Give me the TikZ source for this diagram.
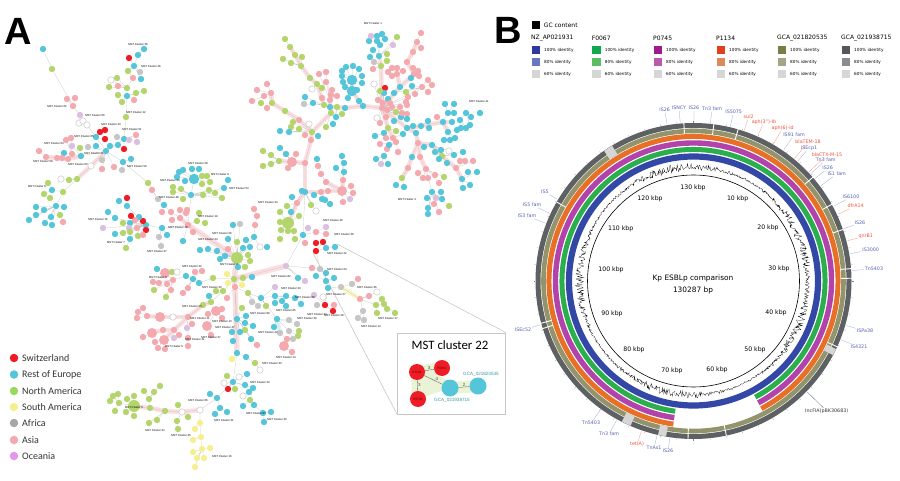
\documentclass[tikz,border=0pt]{standalone}
\usepackage{fontspec}
\setmainfont{DejaVu Sans}
\newfontfamily\arialf{Liberation Sans}
\newfontfamily\carlf{Carlito}
\usetikzlibrary{calc}
\pgfdeclarelayer{halos}
\pgfdeclarelayer{wires}
\pgfsetlayers{halos,wires,main}
\definecolor{cAsia}{HTML}{F4A9AE}
\definecolor{cEu}{HTML}{55C5DA}
\definecolor{cNa}{HTML}{B4D46C}
\definecolor{cSa}{HTML}{F6EF90}
\definecolor{cAf}{HTML}{C6C6C6}
\definecolor{cOc}{HTML}{DABFE0}
\definecolor{cCh}{HTML}{EE1C25}
\definecolor{blueA}{HTML}{2B3A9B}
\definecolor{blueB}{HTML}{6677C0}
\definecolor{greenA}{HTML}{12A850}
\definecolor{greenB}{HTML}{5CBE64}
\definecolor{magA}{HTML}{A2198E}
\definecolor{magB}{HTML}{B85BAD}
\definecolor{redA}{HTML}{E0401F}
\definecolor{redB}{HTML}{DC8A5C}
\definecolor{oliveA}{HTML}{7C7C46}
\definecolor{oliveB}{HTML}{A4A486}
\definecolor{darkA}{HTML}{53575A}
\definecolor{darkB}{HTML}{8A8C8E}
\definecolor{idGray}{HTML}{D6D6D6}
\definecolor{labBlue}{HTML}{5560B5}
\definecolor{labRed}{HTML}{F0523A}
\definecolor{ringBlue}{HTML}{3347A6}
\definecolor{ringGreen}{HTML}{2BAE4C}
\definecolor{ringMag}{HTML}{B243AA}
\definecolor{ringOrange}{HTML}{E76F26}
\definecolor{ringOlive}{HTML}{94946C}
\definecolor{ringDark}{HTML}{5E6163}
\tikzset{
  nd/.style={circle,inner sep=0pt,minimum size=6.4pt},
  asia/.style={nd,fill=cAsia}, eu/.style={nd,fill=cEu}, na/.style={nd,fill=cNa},
  sa/.style={nd,fill=cSa}, af/.style={nd,fill=cAf}, oc/.style={nd,fill=cOc},
  ch/.style={nd,fill=cCh}, wh/.style={nd,fill=white,draw=gray!60,line width=.3pt},
  asiabig/.style={asia,minimum size=10pt}, eubig/.style={eu,minimum size=10.5pt},
  nabig/.style={na,minimum size=12pt},
  wire/.style={draw=gray!50,line width=.2pt},
  halo/.style={draw=cAsia!38,line width=4.5pt,line cap=round},
  mst/.style={font=\arialf\fontsize{2.8}{3}\selectfont,inner sep=0pt},
  feat/.style={font=\fontsize{4.8}{5}\selectfont,inner sep=.8pt},
  kbp/.style={font=\fontsize{6.2}{7}\selectfont,inner sep=0pt},
  ident/.style={font=\fontsize{4.2}{5}\selectfont,anchor=west,inner sep=0pt},
  head/.style={font=\fontsize{6}{7}\selectfont,anchor=west,inner sep=0pt},
  swatch/.style={minimum size=8.5pt,inner sep=0pt},
  big letter/.style={font=\arialf\bfseries\fontsize{38}{38}\selectfont,inner sep=0pt},
  lgd/.style={circle,inner sep=0pt,minimum size=8.5pt},
  lgdtext/.style={font=\carlf\fontsize{10}{11}\selectfont,anchor=west,inner sep=0pt,text=black!80},
  inod/.style={circle,inner sep=0pt,minimum size=16pt,font=\arialf\fontsize{3.2}{4}\selectfont},
  elab/.style={font=\arialf\fontsize{4.5}{5}\selectfont,inner sep=.5pt,fill=none},
  teal text/.style={font=\arialf\fontsize{4.6}{5}\selectfont,text=teal!80,inner sep=0pt}
}
\newcommand{\wirelist}{}
\newcommand{\hubs}[1]{\foreach \nm/\pa/\x/\y/\col in {#1}{%
  \node[\col] (\nm) at (\x,\y) {};
  \xdef\wirelist{\wirelist (\pa)--(\nm)}}}
\newcommand{\kids}[2]{\foreach \x/\y/\col [count=\i] in {#2}{%
  \node[\col] (#1-\i) at (\x,\y) {};
  \xdef\wirelist{\wirelist (#1)--(#1-\i)}}}
\newcommand{\ringarc}[4]{\draw[#1,line width=#3pt] (#4:#2) arc[start angle=#4,end angle=622,radius=#2pt];}

\begin{document}
\begin{tikzpicture}[x=1pt,y=-1pt]
	\useasboundingbox (0,0) rectangle (900,481);
	\coordinate (c) at (693.5,281); %centre of the rings
	\node[big letter] (A) at (18,31) {A};
	\node[big letter] (B) at (508.5,30) {B};

	% right tree
	\hubs{r/r/382/108/asia,ru/r/381/66/na,ru1/ru/379/56/eu,ru2/ru1/377/41/eu,
		rr/r/407/128/eu,rr1/rr/421/126/eu,rr2/rr1/443/122/eu,rr3/rr2/448/132/eu,rr4/rr2/452/122/eu,
		rr5/rr2/448/113/eu,rr6/rr4/460/120/eu,rr7/rr6/466/113/eu,
		rd/rr/416/133/eu,rd1/rd/418/143/asia,rd2/rd1/432/145/eu,rd3/rd2/442/156/na,rd4/rd3/456/168/asia,rd5/rd4/462/179/eu,
		rb/rd1/412/157/eu,rb1/rb/408/168/asia,rb2/rb1/402/178/na,
		rc/rd1/420/157/asia,rc1/rc/426/169/asia,rc2/rc1/432/192/eu,
		rl/r/363/106/eu,rl1/rl/345/108/eu,rl2/rl1/337/107/na,rl3/rl2/330/107/eu,rl4/rl3/324/105/na,
		tq1/rl/359/101/eu,tq2/tq1/352/91/eubig,tq/tq2/352/80/eubig,
		t1/rl3/331/113/na,t2/t1/312/132/na,t3/t2/311/140/asia,t4/t3/305/163/asia,t5/t4/305/192/eu,
		rp/r/400/87/eu,rq/rp/397/74/asia,rs/rp/414/74/asia,rp1/rs/407/62/asia,rp2/rp1/413/52/asia,rp3/rp2/417/42/asia,rt/r/422/87/asia,
		ra/r/388/128/na,ra1/ra/384/133/eu,ra2/ra/393/138/asia,ra3/ra2/396/142/asia,ra4/ra3/398/152/asia,ra5/ra3/387/149/asia,ra6/ra5/384/156/eu,
		ua1/rl4/317/84/na,ua2/ua1/310/78/na,ua3/ua2/301/66/na,ua4/ua3/295/55/na,ua5/ua4/290/47/na,ub/rl3/330/100/asia,
		tb1/t2/299/120/asia,tb2/tb1/285/111/na,tb3/tb2/272/103/na,tb4/tb3/271/93/asia,
		tc/t4/292/162/asiabig,tc1/tc/279/161/na,
		te/t5/321/192/asia,te1/te/328/191/asia,te2/te1/342/191/asiabig,te3/te2/343/180/asia,te4/te2/326/182/asia,te5/te4/321/174/asia,te6/te5/318/166/asia,
		tf/t5/297/203/asia,tg/tf/288/223/nabig}
	\kids{r}{385/88/ch,384/93/eu,374/84/wh,380/91/na,378/100/asia,383/103/asia,388/99/eu,390/103/asia,387/110/asia,392/107/asia,396/112/na,400/107/asia,386/117/asia,380/123/asia,377/118/wh,394/121/eu,401/117/eu,402/113/asia,407/105/asia,407/114/asia,407/119/eu,408/97/asia,406/102/asia}
	\kids{ru}{373/69/asia,374/62/af,387/61/na,387/54/na,370/57/eu}
	\kids{ru1}{373/50/eu,380/45/eu,393/45/oc,397/37/na}
	\kids{ru2}{369/41/eu,371/36/oc,377/36/eu,382/34/eu,385/39/eu}
	\kids{rq}{392/68/asia,397/68/asia,403/71/asia,392/76/asia,388/72/asia}
	\kids{rs}{413/68/asia,418/71/asia,419/76/asia,411/78/eu}
	\kids{rp3}{421/33/asia,421/48/asia}
	\kids{rt}{428/80/asia,432/85/asia,428/92/asia,412/86/eu,406/92/na,394/93/eu,415/94/asia}
	\kids{rr1}{428/121/eu,429/128/eu,413/126/eu}
	\kids{rr2}{437/117/asia}
	\kids{rr5}{445/104/eu,454/104/eu,454/113/eu}
	\kids{rr7}{471/117/eu,480/113/eu,470/125/eu}
	\kids{rr6}{461/128/eu,466/128/eu}
	\kids{rr3}{457/130/eu,450/140/eu,444/140/eu,455/138/eu}
	\kids{rd2}{424/147/eu,435/152/eu,441/150/eu,449/151/wh}
	\kids{rd3}{447/163/eu,439/159/eu,454/155/eu,463/152/eu}
	\kids{rd4}{460/161/asia,465/161/asia,473/161/asia}
	\kids{rd5}{468/172/eu,477/172/eu,470/185/eu,463/188/eu}
	\kids{rb2}{396/185/eu,404/187/eu}
	\kids{rc1}{418/173/asia,423/178/asia,428/178/asia,435/175/asia,439/183/asia,444/177/na}
	\kids{rc2}{427/198/eu,436/198/oc,441/192/eu,442/199/eu,449/206/na,434/204/asia,439/212/asia,428/208/eu,428/214/eu}
	\kids{ra}{396/131/na}
	\kids{ra1}{375/136/eu,386/138/asia}
	\kids{ra2}{403/134/eu}
	\kids{ra3}{389/145/eu,380/144/asia}
	\kids{ra6}{376/159/eu,381/164/oc,388/164/eu}
	\kids{tq}{342/71/eu,346/67/eu,353/66/eu,359/69/eu,342/76/eu,362/76/eu,343/82/eu,362/83/eu,345/87/eu,357/90/eu,348/98/eu}
	\kids{rl4}{313/103/eu,305/97/eu,304/104/af}
	\kids{rl2}{336/117/eu,333/124/eu,342/114/na}
	\kids{t1}{326/127/na}
	\kids{ua1}{312/89/wh,322/88/na}
	\kids{ua3}{291/63/na,283/59/na,302/57/na}
	\kids{ua5}{285/39/na}
	\kids{ub}{322/98/asia,337/96/asia,332/90/asia,331/95/asia,326/82/asia,319/74/asia,326/72/asia}
	\kids{tb3}{267/108/asia,261/103/na}
	\kids{tb4}{267/84/asia,264/96/asia,257/90/asia,252/101/asia}
	\kids{t2}{309/124/wh,299/129/na,291/127/na,293/122/na,305/135/asia,318/136/eu,289/132/eu,280/131/eu}
	\kids{tc}{296/154/asia,286/154/eu,280/148/eu,288/168/asia}
	\kids{tc1}{271/164/na,263/166/na,271/155/na,263/151/na}
	\kids{te2}{351/186/asia,353/193/asia,350/199/oc,343/202/asia}
	\kids{te3}{336/168/eu,344/172/eu,344/163/eu,342/156/eu}
	\kids{te6}{317/159/eu}
	\kids{te}{314/195/eu,322/199/eu,325/200/eu,330/204/eu}
	\kids{tf}{292/197/eu,302/191/eu,291/212/eu,287/206/na}
	\kids{tg}{280/212/na,280/222/na,299/216/na,281/230/na,288/231/na,294/231/na,280/239/na,295/239/na}
	\kids{t5}{311/205/na,316/211/wh}

	% centre of panel A
	\hubs{v/t5/303/235/eu,w/v/286/266/oc,j/w/234/279/na,h/j/237/258/nabig,k/j/235/287/asia,m/k/237/353/eu,
		v1/v/316/232/asia,
		x/w/312/268/asia,x1/x/320/269/af,x2/x1/326/273/eu,q/x1/316/251/ch,q1/q/326/248/eu,
		x3/x2/326/281/eu,x4/x3/328/288/eu,y/x4/341/287/af,y1/y/352/284/af,y2/y/360/299/asia,y3/y2/363/311/af,y4/y2/376/305/na,y5/y4/384/304/na,
		z1/x4/325/305/ch,
		g/k/248/293/na,g1/g/261/298/eu,g2/g1/275/287/oc,g3/g1/275/296/eu,g4/g3/282/301/eu,g5/g4/286/306/eu,g6/g3/295/298/eu,
		n/g1/277/319/eu,n1/n/280/333/af,n2/n1/287/339/asia,n3/n2/284/346/asiabig,n4/n/289/331/af,
		p1/k/237/319/eu,
		m1/m/246/357/eu,m2/m1/255/363/na,
		o/m/233/382/eu,o1/o/253/388/eu,o2/o1/250/400/na,o4/o2/254/405/eu,o5/o4/263/413/eu,
		d/o/217/398/eu,d1/d/220/408/eu,d2/d/210/394/eu,
		e/d/200/410/wh,e1/e/182/412/wh,e2/e1/165/411/na,e3/e2/150/408/na,e4/e3/134/406/nabig,e5/e1/177/421/na,e6/e3/149/399/na,e7/e4/119/403/na,
		sa1/e/200/423/sa,sa2/sa1/201/437/sa,sa3/sa2/202/449/sa,
		c1/j/223/291/na,c2/c1/211/302/na,c3/c2/203/305/na,c4/c3/188/317/asia,c5/c4/173/317/wh,c6/c5/160/317/asiabig,c7/c6/147/316/asia,
		c8/c4/174/330/asia,c9/c8/163/330/asia,c10/c9/152/333/asiabig,c11/c8/164/340/asiabig,c41/c4/188/338/asia,
		c12/c2/216/311/asiabig,c13/c12/207/326/asiabig,
		b/j/213/278/na,b1/b/199/283/eu,b2/b1/193/279/eu,b3/b2/186/276/eu,b4/b3/173/280/asia,b5/b4/165/273/asiabig,
		s1/h/254/237/eu,s2/s1/255/225/asia,s3/s2/257/216/asia,s4/s3/254/209/asia,s5/s1/260/247/wh,
		f/h/188/225/asia}
	\kids{v}{308/228/oc,305/243/asia}
	\kids{v1}{326/227/oc,326/234/asia}
	\kids{q}{316/243/ch,323/242/ch}
	\kids{q1}{335/247/eu}
	\kids{x3}{316/276/eu,334/278/eu}
	\kids{y1}{358/279/asia}
	\kids{y2}{369/296/asia,377/292/wh}
	\kids{y3}{358/318/af,364/320/af}
	\kids{y4}{377/313/na,382/299/na}
	\kids{y5}{387/309/na,395/313/na}
	\kids{z1}{333/311/ch,334/305/asia,317/305/af,314/295/oc,323/297/wh}
	\kids{w}{298/278/eu,305/281/oc}
	\kids{j}{243/278/na,252/277/eu,227/274/sa,228/283/sa,242/285/sa}
	\kids{g}{252/302/af,258/306/af}
	\kids{g1}{266/306/na}
	\kids{g3}{275/303/eu,286/296/eu}
	\kids{g6}{301/304/eu}
	\kids{n}{289/320/af,297/324/af,274/327/eu}
	\kids{n3}{292/352/asia}
	\kids{n4}{299/331/na,298/336/na,293/339/af}
	\kids{k}{227/298/asia}
	\kids{p1}{245/323/eu,253/326/eu,245/330/na,240/332/eu,232/332/eu,233/341/eu,242/308/na,246/316/eu,251/339/eu,257/345/asia}
	\kids{m}{232/359/sa}
	\kids{m2}{260/370/wh}
	\kids{o}{227/376/na,239/377/wh,247/374/eu,224/383/wh,228/389/ch,235/389/na,245/385/eu}
	\kids{o1}{249/392/eu,243/396/wh}
	\kids{o2}{243/406/eu}
	\kids{o5}{271/412/eu,264/422/eu}
	\kids{d1}{215/414/eu,227/412/eu}
	\kids{e1}{178/405/na,188/417/na}
	\kids{e5}{178/429/na}
	\kids{e2}{157/420/na,149/423/na}
	\kids{e6}{144/391/na,154/392/na,160/386/na}
	\kids{e4}{134/396/na,127/399/na,126/412/na,134/416/na}
	\kids{e7}{118/394/na,113/396/na,110/401/na,115/411/na}
	\kids{sa1}{195/429/sa}
	\kids{sa2}{193/440/sa}
	\kids{sa3}{210/448/sa,193/452/sa,197/458/sa,204/458/sa,195/467/sa}
	\kids{c1}{216/291/na,209/296/eu}
	\kids{c7}{143/308/asia,138/312/asia,137/318/asia}
	\kids{c4}{192/324/asia,187/328/oc}
	\kids{c41}{188/346/asia}
	\kids{c8}{179/335/asia,174/338/oc}
	\kids{c10}{143/337/asia}
	\kids{c11}{155/342/asia,158/348/asia,165/349/asia}
	\kids{c12}{222/309/asia,208/314/asia,222/318/asia}
	\kids{c13}{211/335/asia}
	\kids{b2}{195/272/asia,202/271/asia,188/288/asia,183/293/asia}
	\kids{b4}{167/284/asia,159/283/asia,153/282/asia,171/290/asia,166/297/na,154/290/na}
	\kids{b5}{157/269/eu,172/272/na,177/272/wh}
	\kids{h}{228/239/eu,237/242/na,233/225/eu,240/224/af,246/240/eu,243/248/eu,250/247/eu,248/255/na,250/261/na,245/267/na,238/267/eu,220/259/eu,225/256/eu,228/249/asia,217/251/eu,208/249/eu,200/250/eu}
	\kids{s5}{267/247/eu}

	% left of panel A
	\hubs{f1/f/186/213/asia,f3/f/180/218/asia,f4/f3/171/212/asia,f5/f4/164/205/eu,f6/f5/158/199/af,f7/f6/148/183/na,f8/f7/123/162/eu,f9/f8/106/151/eu,
		f10/f/197/221/na,f11/f/191/195/eu,f12/f11/194/179/eubig,f13/f11/224/188/eu,
		f14/f/162/228/eu,f15/f14/146/225/eu,f16/f14/159/237/af,f17/f15/127/206/eu,f18/f15/115/218/eu,f19/f15/130/239/eu,
		fa/f9/124/139/eu,fa1/fa/126/117/na,fa2/fa1/127/96/eu,fa3/fa2/127/88/na,fa4/fa3/133/78/asia,fa5/fa4/128/71/na,fa6/fa5/134/66/eu,fa7/fa6/138/55/eu,
		fb/f9/96/137/eu,fc/f9/88/147/af,fd/f9/81/156/eu,fe/fd/72/154/asia,ff/fd/68/159/asia,fg/ff/57/158/asia,fh/fg/46/157/asia,
		fi/f9/91/166/wh,fj/fi/77/179/na,fk/fj/63/192/na,fl/fk/52/190/eu,fm/fk/56/206/eu,
		fo/f9/80/115/oc,fp/fo/73/106/asia,fq/fp/52/69/na}
	\kids{f}{193/232/asia,183/241/eu}
	\kids{f1}{180/210/asia,187/210/asia}
	\kids{f3}{172/220/asia}
	\kids{f4}{162/212/asia}
	\kids{f6}{152/190/asia}
	\kids{f10}{199/213/na,205/223/na}
	\kids{f12}{192/169/eu,199/169/eu,183/170/eu,179/172/eu,177/177/eu,185/181/eu,202/176/na,207/176/na,202/184/na,210/182/na}
	\kids{f11}{181/189/na,173/187/na,173/192/na,183/199/na,203/195/na,209/190/na,215/193/na,222/198/na}
	\kids{f13}{228/180/eu}
	\kids{f14}{167/235/eu}
	\kids{f16}{161/246/af}
	\kids{f15}{143/221/ch,146/230/ch,139/217/eu,135/220/asia,131/216/ch,130/223/eu,137/228/asia,129/228/oc,130/232/na,138/236/na,143/235/asia,123/223/na,123/233/na,115/234/eu,103/228/oc}
	\kids{f17}{119/201/eu,127/198/ch}
	\kids{f18}{108/212/eu}
	\kids{f19}{126/248/na}
	\kids{fa}{117/137/af,136/135/asia,129/140/oc,137/142/oc,124/149/ch}
	\kids{fa2}{118/95/na,122/102/na,134/100/asia,136/93/na,144/91/na}
	\kids{fa3}{117/78/na,111/80/wh,109/87/na,118/86/asia}
	\kids{fa6}{140/72/af,141/79/eu,129/58/ch}
	\kids{fa7}{144/49/eu}
	\kids{fb}{100/132/ch,105/130/ch,105/139/ch}
	\kids{f9}{110/146/eu,118/145/eu,96/146/eu,114/167/asia,102/160/af,102/169/asia}
	\kids{f8}{131/159/eu,122/170/af}
	\kids{fd}{80/148/na,72/146/oc}
	\kids{fe}{64/153/eu,66/140/asia,71/138/asia}
	\kids{ff}{62/158/asia}
	\kids{fh}{39/151/asia}
	\kids{fj}{69/180/na,61/179/wh}
	\kids{fl}{48/183/na,44/194/na,50/198/na}
	\kids{fm}{64/207/eu,44/210/eu,60/215/na,51/217/eu,36/207/eu,36/215/eu,29/220/eu,45/223/eu,52/225/eu,63/222/asia}
	\kids{fo}{79/123/wh,83/121/wh,87/125/wh}
	\kids{fp}{67/99/asia,75/98/asia}
	\kids{fq}{43/49/eu}

	% pink bands and thin links under the trees
	\begin{pgfonlayer}{halos}
		\foreach \a/\b in {r/rl,rl/rl1,rl1/rl2,rl2/rl3,rl3/t1,t1/t2,t2/t3,t3/t4,t4/t5,r/ru,ru/ru1,r/rr,rr/rr1,rr1/rr2,rr2/rr3,rr2/rr4,rr/rd,rd/rd1,rd1/rd2,rd2/rd3,rd3/rd4,rd4/rd5,rd1/rb,rb/rb1,rb1/rb2,rd1/rc,rc/rc1,r/rp,rp/rq,rp/rs,rs/rp1,rp1/rp2,rp2/rp3,r/ra,ra/ra2,ra2/ra3,rl/tq1,tq1/tq2,tq2/tq,rl4/ua1,ua1/ua2,ua2/ua3,ua3/ua4,ua4/ua5,rl3/ub,t2/tb1,tb1/tb2,tb2/tb3,tb3/tb4,t4/tc,tc/tc1,t5/te,te/te1,te1/te2,te2/te3,te2/te4,t5/tf,tf/tg,c2/c3,c3/c4,c4/c5,c5/c6,c6/c7,c4/c8,c8/c9,c9/c10,c8/c11,e/e1,e1/e2,e2/e3,e3/e4,f/f3,fd/ff,ff/fg,fg/fh,fi/fj,f9/fi}
			\draw[halo] (\a) -- (\b);
		\foreach \a/\b in {w/j,j/h,h/f,j/k,k/m}
			\draw[halo,line width=5.5pt] (\a) -- (\b);
		\draw[halo,draw=cSa!50] (y) -- (y2);
		\draw[halo,draw=cEu!18] (n) -- (n1);
	\end{pgfonlayer}
	\begin{pgfonlayer}{wires}
		\draw[wire] \wirelist;
	\end{pgfonlayer}

	% cluster labels
	\foreach \x/\y/\num [count=\i] in {138/45/36,151/67/46,57/107/62,95/116/60,136/113/12,111/125/43,132/130/51,84/137/65,54/144/64,94/154/21,43/162/58,78/165/60,137/167/59,37/187/6,198/164/28,220/175/8,170/181/44,239/189/54,169/197/48,98/219/16,116/242/7,157/251/37,178/228/26,208/216/19,208/239/24,222/233/06,229/264/2,192/266/32,158/277/8,212/287/33,192/306/23,200/318/11,195/339/41,174/346/9,222/321/13,225/327/47,211/337/27,134/407/6,155/430/34,181/435/35,198/400/66,224/420/31,222/456/16,
		373/24/1,479/102/41,407/200/3,268/203/34,333/220/46,344/234/36,337/253/22,281/276/82,337/269/64,336/294/27,367/287/36,388/318/17,371/326/14,317/314/34,334/315/28,291/288/33,305/297/88,286/310/85,260/313/89,307/318/39,268/332/42,286/357/14,272/363/33,260/382/20,277/419/30,256/413/67}
		\node[mst] (lab\i) at (\x,\y) {MST Cluster \num};

	% legend of panel A
	\foreach \y/\col/\txt [count=\i] in {358/cCh/Switzerland,374.5/cEu/Rest of Europe,391/cNa!85!green/North America,407/cSa/South America,423/gray!70/Africa,440/cAsia/Asia,456/cOc!80!magenta/Oceania}{
		\node[lgd,fill=\col] (leg\i) at (14,\y) {};
		\node[lgdtext] (legtxt\i) at (22,\y) {\txt};
	}

	% inset
	\coordinate (zt) at (337,244);
	\coordinate (zb) at (313,253);
	\node[draw=black!22,fill=white,line width=.7pt,minimum width=108pt,minimum height=81.5pt,inner sep=0pt] (inset) at (451.7,373.75) {};
	\begin{pgfonlayer}{wires}
		\draw[black!22,line width=.6pt] (inset.north east) -- (zt);
		\draw[black!22,line width=.6pt] (inset.south west) -- (zb);
	\end{pgfonlayer}
	\node[font=\carlf\fontsize{12.8}{14}\selectfont,inner sep=0pt] (title) at (450,345) {MST cluster 22};
	\coordinate (i1) at (417,372);
	\coordinate (i2) at (442,368);
	\coordinate (i3) at (418,399);
	\coordinate (i4) at (450,388);
	\coordinate (i5) at (478,386);
	\draw[cNa!28,line width=12pt,line cap=round,line join=round] (i2) -- (i1) -- (i3) (i1) -- (i4) -- (i5);
	\fill[cNa!28] (i1) -- (i3) -- (i4) -- cycle;
	\node[inod,fill=cCh,text=black!60!red] (P1134) at (i1) {P1134};
	\node[inod,fill=cCh,text=black!60!red] (P0067) at (i2) {P0067};
	\node[inod,fill=cCh,text=black!60!red] (P0745) at (i3) {P0745};
	\node[inod,fill=cEu,minimum size=17pt] (GCAb) at (i4) {};
	\node[inod,fill=cEu,minimum size=17pt] (GCAa) at (i5) {};
	\draw[black!70,line width=.3pt] (P1134) -- node[elab,above,pos=.45] {3} (P0067);
	\draw[black!70,line width=.3pt] (P1134) -- node[elab,right,pos=.45] {3} (P0745);
	\draw[black!70,line width=.3pt] (P1134) -- node[elab,above right,pos=.6] {4} (GCAb);
	\draw[black!70,line width=.3pt] (GCAb) -- node[elab,above] {2} (GCAa);
	\node[teal text] (txtGCAa) at (481,374) {GCA\_021820535};
	\node[teal text] (txtGCAb) at (452,400) {GCA\_021938715};

	% legend of panel B
	\node[swatch,fill=black] (gcbox) at (536,25) {};
	\node[head] (gctxt) at (543.7,25.5) {GC content};
	\foreach \nm/\xx/\ca/\cb [count=\i] in {NZ\_AP021931/531/blueA/blueB,F0067/591.7/greenA/greenB,P0745/653/magA/magB,P1134/716/redA/redB,GCA\_021820535/777/oliveA/oliveB,GCA\_021938715/841/darkA/darkB}{
		\node[head] (col\i) at (\xx,38) {\nm};
		\node[swatch,fill=\ca] (swa\i) at ({\xx+5},50) {};
		\node[swatch,fill=\cb] (swb\i) at ({\xx+5},62) {};
		\node[swatch,fill=idGray] (swc\i) at ({\xx+5},74) {};
		\node[ident] (ta\i) at ({\xx+13},50.5) {100\% identity};
		\node[ident] (tb\i) at ({\xx+13},62.5) {80\% identity};
		\node[ident] (tc\i) at ({\xx+13},74.5) {60\% identity};
	}

	% rings
	\begin{scope}[shift={(c)},x=1pt,y=1pt]
		\draw[ringBlue,line width=6.2pt] (0,0) circle[radius=124.5pt];
		\ringarc{ringGreen}{131.5}{5}{298}
		\ringarc{ringMag}{138}{5.4}{298}
		\ringarc{ringOrange}{144.5}{5}{298}
		\draw[ringOlive,line width=4.6pt] (0,0) circle[radius=150pt];
		\draw[ringDark,line width=5pt] (0,0) circle[radius=155.5pt];
		\foreach \a/\b in {121/124.5,243/246.5,257/260,-28/-25.5}
			\draw[idGray,line width=10pt] (\a:152.8) arc[start angle=\a,end angle=\b,radius=152.8pt];
		\foreach \a in {93.5,82.6,73.6,150,41,29,19,4.5,1,-24.6,195.5,197.5,-78,268}
			\draw[white,line width=.9pt] (\a:147.3) -- (\a:158.4);
		\foreach \a in {0,6,...,354}
			\draw[gray,line width=.2pt] (\a:158.3) -- (\a:160);
		\draw[black,line width=.6pt] (0,0) circle[radius=106pt];
		\pgfmathsetseed{11}
		\draw[black,line width=.22pt] plot[domain=0:360,samples=1000,variable=\t] (\t:{114+(1.2+3*pow(sin(2.3*\t+40),2))*(2*rnd-1)});
	\end{scope}

	% kbp marks
	\foreach \x/\y/\txt [count=\i] in {693/188/130,650/199/120,737.7/199/10,620.7/229/110,768/228/20,611/270/100,779/269/30,612/314/90,776/313/40,634/350/80,755/350/50,672/371/70,717/370/60}
		\node[kbp] (kb\i) at (\x,\y) {\txt\ kbp};
	\node[font=\fontsize{7.4}{9}\selectfont,inner sep=0pt] (name) at (693,278) {Kp ESBLp comparison};
	\node[font=\fontsize{7.4}{9}\selectfont,inner sep=0pt] (size) at (693,290) {130287 bp};

	% features on the rings
	\foreach \x/\y/\txt [count=\i] in {664.7/110/IS26,679/108/ISNCY,694/108/IS26,712/109/Tn3 fam,733.7/112/IS5075,794/135/IS91 fam,809/148/ISEcp1,825.7/160/Tn3 fam,827.7/168/IS26,836.7/174/IS1 fam,851/197/IS6100,860/223/IS26,870.7/250/IS3000,874/269/Tn5403,865/331/ISPa38,859/347/IS4321,668/451/IS26,654/448/TnAs1,609/434/Tn3 fam,591/423/Tn5403,523/330/ISEc52,545/192/IS5,532/205/IS5 fam,527/216/IS3 fam}{
		\node[feat,text=labBlue] (fb\i) at (\x,\y) {\txt};
		\draw[labBlue!60,line width=.25pt] ($(c)!159pt!(fb\i)$) -- (fb\i);
	}
	\foreach \x/\y/\txt [count=\i] in {748.7/117/sul2,764/122/aph(3'')-Ib,782.7/128/aph(6)-Id,808/142/blaTEM-18,827/155/blaCTX-M-15,855.7/206/dfrA14,865.7/236/qnrB1,637/444/tet(A)}{
		\node[feat,text=labRed] (fr\i) at (\x,\y) {\txt};
		\draw[labRed!70,line width=.25pt] ($(c)!159pt!(fr\i)$) -- (fr\i);
	}
	\node[feat,text=black!80] (inc) at (826.7,411) {IncFIA(pBK30683)};
	\draw[black!70,line width=.25pt] ($(c)!159pt!(inc)$) -- (inc);
\end{tikzpicture}
\end{document}
